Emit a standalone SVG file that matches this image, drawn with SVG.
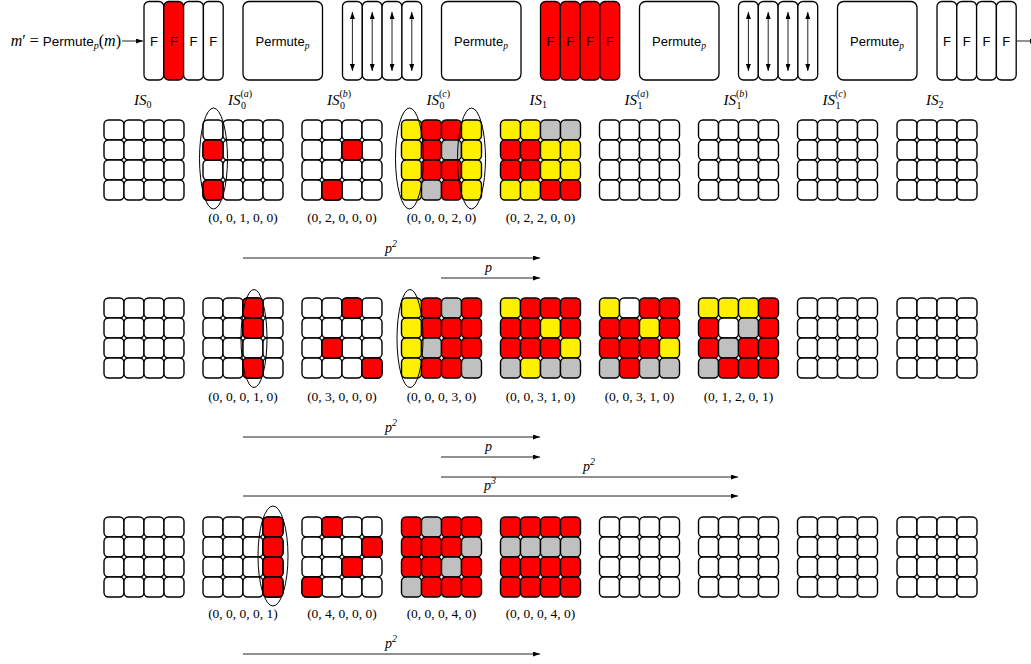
<svg xmlns="http://www.w3.org/2000/svg" xmlns:xlink="http://www.w3.org/1999/xlink" width="1031" height="664" viewBox="0 0 1031 664">
<style>
.R{fill:#ff0000}.Y{fill:#fff000}.G{fill:#c0c0c0}.W{fill:#ffffff}
.col{stroke:#000;stroke-width:1.3}
.box{fill:#fff;stroke:#000;stroke-width:1.3}
.ell{fill:none;stroke:#000;stroke-width:1}
.con{stroke:#222;stroke-width:1;fill:none}
.sf{font-family:"Liberation Sans",Arial,sans-serif;font-size:13px;fill:#000}
.mi{font-family:"Liberation Serif","Times New Roman",serif;font-style:italic;font-size:15px;fill:#000}
.sm{font-family:"Liberation Serif","Times New Roman",serif;font-size:10px;fill:#000}
.rm{font-family:"Liberation Serif","Times New Roman",serif;font-size:16px;fill:#000}
.tu{font-family:"Liberation Serif","Times New Roman",serif;font-size:13.5px;fill:#000;text-anchor:middle}
.pl{font-family:"Liberation Serif","Times New Roman",serif;font-style:italic;font-size:14px;fill:#000}
</style>
<defs>
<rect id="c" width="20" height="20" rx="4.5" stroke="#000" stroke-width="1.4"/>
<g id="grid">
<use xlink:href="#c" x="0" y="0" fill="#fff"/><use xlink:href="#c" x="20" y="0" fill="#fff"/><use xlink:href="#c" x="40" y="0" fill="#fff"/><use xlink:href="#c" x="60" y="0" fill="#fff"/>
<use xlink:href="#c" x="0" y="20" fill="#fff"/><use xlink:href="#c" x="20" y="20" fill="#fff"/><use xlink:href="#c" x="40" y="20" fill="#fff"/><use xlink:href="#c" x="60" y="20" fill="#fff"/>
<use xlink:href="#c" x="0" y="40" fill="#fff"/><use xlink:href="#c" x="20" y="40" fill="#fff"/><use xlink:href="#c" x="40" y="40" fill="#fff"/><use xlink:href="#c" x="60" y="40" fill="#fff"/>
<use xlink:href="#c" x="0" y="60" fill="#fff"/><use xlink:href="#c" x="20" y="60" fill="#fff"/><use xlink:href="#c" x="40" y="60" fill="#fff"/><use xlink:href="#c" x="60" y="60" fill="#fff"/>
</g>
<marker id="ah" viewBox="0 0 7 5" refX="7" refY="2.5" markerWidth="7" markerHeight="5" markerUnits="userSpaceOnUse" orient="auto-start-reverse"><path d="M0,0 L7,2.5 L0,5 z" fill="#000"/></marker>
</defs>

<!-- top row -->
<g id="topLabel">
<text x="121" y="46" text-anchor="end"><tspan class="mi" style="font-size:16px">m</tspan><tspan class="rm">′ = </tspan><tspan class="sf" style="font-size:13.5px">Permute</tspan><tspan class="pl" style="font-size:10px" dy="3">p</tspan><tspan class="rm" dy="-3">(</tspan><tspan class="mi" style="font-size:16px">m</tspan><tspan class="rm">)</tspan></text>
</g>
<g id="F0">
<rect class="col W" x="144" y="1.5" width="19.8" height="78.5" rx="5"/><rect class="col R" x="163.8" y="1.5" width="19.8" height="78.5" rx="5"/><rect class="col W" x="183.6" y="1.5" width="19.8" height="78.5" rx="5"/><rect class="col W" x="203.4" y="1.5" width="19.8" height="78.5" rx="5"/>
<text class="sf" x="153.9" y="46" text-anchor="middle">F</text><text class="sf" x="173.7" y="46" text-anchor="middle">F</text><text class="sf" x="193.5" y="46" text-anchor="middle">F</text><text class="sf" x="213.3" y="46" text-anchor="middle">F</text>
</g>
<g id="P0a"><rect class="box" x="243" y="1.5" width="79.5" height="78.5" rx="6"/><text x="282.5" y="46" text-anchor="middle"><tspan class="sf">Permute</tspan><tspan class="pl" style="font-size:9.5px" dy="3">p</tspan></text></g>
<g id="A0b">
<rect class="col W" x="342.5" y="1.5" width="19.8" height="78.5" rx="5"/><rect class="col W" x="362.3" y="1.5" width="19.8" height="78.5" rx="5"/><rect class="col W" x="382.1" y="1.5" width="19.8" height="78.5" rx="5"/><rect class="col W" x="401.9" y="1.5" width="19.8" height="78.5" rx="5"/>
<line class="con" x1="352.4" y1="12" x2="352.4" y2="71" marker-start="url(#ah)" marker-end="url(#ah)"/><line class="con" x1="372.2" y1="12" x2="372.2" y2="71" marker-start="url(#ah)" marker-end="url(#ah)"/><line class="con" x1="392" y1="12" x2="392" y2="71" marker-start="url(#ah)" marker-end="url(#ah)"/><line class="con" x1="411.8" y1="12" x2="411.8" y2="71" marker-start="url(#ah)" marker-end="url(#ah)"/>
</g>
<g id="P0c"><rect class="box" x="441.5" y="1.5" width="79.5" height="78.5" rx="6"/><text x="481" y="46" text-anchor="middle"><tspan class="sf">Permute</tspan><tspan class="pl" style="font-size:9.5px" dy="3">p</tspan></text></g>
<g id="F1">
<rect class="col R" x="540.5" y="1.5" width="19.8" height="78.5" rx="5"/><rect class="col R" x="560.3" y="1.5" width="19.8" height="78.5" rx="5"/><rect class="col R" x="580.1" y="1.5" width="19.8" height="78.5" rx="5"/><rect class="col R" x="599.9" y="1.5" width="19.8" height="78.5" rx="5"/>
<text class="sf" x="550.4" y="46" text-anchor="middle">F</text><text class="sf" x="570.2" y="46" text-anchor="middle">F</text><text class="sf" x="590" y="46" text-anchor="middle">F</text><text class="sf" x="609.8" y="46" text-anchor="middle">F</text>
</g>
<g id="P1a"><rect class="box" x="639.5" y="1.5" width="79.5" height="78.5" rx="6"/><text x="679" y="46" text-anchor="middle"><tspan class="sf">Permute</tspan><tspan class="pl" style="font-size:9.5px" dy="3">p</tspan></text></g>
<g id="A1b">
<rect class="col W" x="738.5" y="1.5" width="19.8" height="78.5" rx="5"/><rect class="col W" x="758.3" y="1.5" width="19.8" height="78.5" rx="5"/><rect class="col W" x="778.1" y="1.5" width="19.8" height="78.5" rx="5"/><rect class="col W" x="797.9" y="1.5" width="19.8" height="78.5" rx="5"/>
<line class="con" x1="748.4" y1="12" x2="748.4" y2="71" marker-start="url(#ah)" marker-end="url(#ah)"/><line class="con" x1="768.2" y1="12" x2="768.2" y2="71" marker-start="url(#ah)" marker-end="url(#ah)"/><line class="con" x1="788" y1="12" x2="788" y2="71" marker-start="url(#ah)" marker-end="url(#ah)"/><line class="con" x1="807.8" y1="12" x2="807.8" y2="71" marker-start="url(#ah)" marker-end="url(#ah)"/>
</g>
<g id="P1c"><rect class="box" x="837.5" y="1.5" width="79.5" height="78.5" rx="6"/><text x="877" y="46" text-anchor="middle"><tspan class="sf">Permute</tspan><tspan class="pl" style="font-size:9.5px" dy="3">p</tspan></text></g>
<g id="F2">
<rect class="col W" x="937" y="1.5" width="19.8" height="78.5" rx="5"/><rect class="col W" x="956.8" y="1.5" width="19.8" height="78.5" rx="5"/><rect class="col W" x="976.6" y="1.5" width="19.8" height="78.5" rx="5"/><rect class="col W" x="996.4" y="1.5" width="19.8" height="78.5" rx="5"/>
<text class="sf" x="946.9" y="46" text-anchor="middle">F</text><text class="sf" x="966.7" y="46" text-anchor="middle">F</text><text class="sf" x="986.5" y="46" text-anchor="middle">F</text><text class="sf" x="1006.3" y="46" text-anchor="middle">F</text>
</g>

<!-- IS labels -->
<g id="ISlabels">
<text class="mi" x="134" y="105">IS</text><text class="sm" x="146.5" y="108">0</text>
<text class="mi" x="228" y="105">IS</text><text class="sm" x="241" y="108.5">0</text><text class="sm" x="240.5" y="97">(<tspan font-style="italic">a</tspan>)</text>
<text class="mi" x="327" y="105">IS</text><text class="sm" x="340" y="108.5">0</text><text class="sm" x="339.5" y="97">(<tspan font-style="italic">b</tspan>)</text>
<text class="mi" x="426.5" y="105">IS</text><text class="sm" x="439.5" y="108.5">0</text><text class="sm" x="439" y="97">(<tspan font-style="italic">c</tspan>)</text>
<text class="mi" x="529.5" y="105">IS</text><text class="sm" x="542" y="108">1</text>
<text class="mi" x="624.5" y="105">IS</text><text class="sm" x="637.5" y="108.5">1</text><text class="sm" x="637" y="97">(<tspan font-style="italic">a</tspan>)</text>
<text class="mi" x="723.5" y="105">IS</text><text class="sm" x="736.5" y="108.5">1</text><text class="sm" x="736" y="97">(<tspan font-style="italic">b</tspan>)</text>
<text class="mi" x="822.5" y="105">IS</text><text class="sm" x="835.5" y="108.5">1</text><text class="sm" x="835" y="97">(<tspan font-style="italic">c</tspan>)</text>
<text class="mi" x="926" y="105">IS</text><text class="sm" x="938.5" y="108">2</text>
</g>

<!-- row 1 -->
<g id="r1g0"><use xlink:href="#grid" x="104" y="120"/></g>
<g id="r1g1"><use xlink:href="#grid" x="203" y="120"/><use xlink:href="#c" class="R" x="203" y="140"/><use xlink:href="#c" class="R" x="203" y="180"/></g>
<g id="r1g2"><use xlink:href="#grid" x="302" y="120"/><use xlink:href="#c" class="R" x="342" y="140"/><use xlink:href="#c" class="R" x="322" y="180"/></g>
<g id="r1g3">
<use xlink:href="#c" class="Y" x="401.5" y="120"/><use xlink:href="#c" class="R" x="421.5" y="120"/><use xlink:href="#c" class="R" x="441.5" y="120"/><use xlink:href="#c" class="Y" x="461.5" y="120"/>
<use xlink:href="#c" class="Y" x="401.5" y="140"/><use xlink:href="#c" class="R" x="421.5" y="140"/><use xlink:href="#c" class="G" x="441.5" y="140"/><use xlink:href="#c" class="Y" x="461.5" y="140"/>
<use xlink:href="#c" class="Y" x="401.5" y="160"/><use xlink:href="#c" class="R" x="421.5" y="160"/><use xlink:href="#c" class="R" x="441.5" y="160"/><use xlink:href="#c" class="Y" x="461.5" y="160"/>
<use xlink:href="#c" class="Y" x="401.5" y="180"/><use xlink:href="#c" class="G" x="421.5" y="180"/><use xlink:href="#c" class="R" x="441.5" y="180"/><use xlink:href="#c" class="Y" x="461.5" y="180"/>
</g>
<g id="r1g4">
<use xlink:href="#c" class="Y" x="500.5" y="120"/><use xlink:href="#c" class="Y" x="520.5" y="120"/><use xlink:href="#c" class="G" x="540.5" y="120"/><use xlink:href="#c" class="G" x="560.5" y="120"/>
<use xlink:href="#c" class="R" x="500.5" y="140"/><use xlink:href="#c" class="R" x="520.5" y="140"/><use xlink:href="#c" class="Y" x="540.5" y="140"/><use xlink:href="#c" class="Y" x="560.5" y="140"/>
<use xlink:href="#c" class="R" x="500.5" y="160"/><use xlink:href="#c" class="R" x="520.5" y="160"/><use xlink:href="#c" class="Y" x="540.5" y="160"/><use xlink:href="#c" class="Y" x="560.5" y="160"/>
<use xlink:href="#c" class="Y" x="500.5" y="180"/><use xlink:href="#c" class="Y" x="520.5" y="180"/><use xlink:href="#c" class="R" x="540.5" y="180"/><use xlink:href="#c" class="R" x="560.5" y="180"/>
</g>
<g id="r1g5"><use xlink:href="#grid" x="599.5" y="120"/></g>
<g id="r1g6"><use xlink:href="#grid" x="698.5" y="120"/></g>
<g id="r1g7"><use xlink:href="#grid" x="797.5" y="120"/></g>
<g id="r1g8"><use xlink:href="#grid" x="897" y="120"/></g>

<!-- row 2 -->
<g id="r2g0"><use xlink:href="#grid" x="104" y="298"/></g>
<g id="r2g1"><use xlink:href="#grid" x="203" y="298"/><use xlink:href="#c" class="R" x="243" y="298"/><use xlink:href="#c" class="R" x="243" y="318"/><use xlink:href="#c" class="R" x="243" y="358"/></g>
<g id="r2g2"><use xlink:href="#grid" x="302" y="298"/><use xlink:href="#c" class="R" x="342" y="298"/><use xlink:href="#c" class="R" x="322" y="338"/><use xlink:href="#c" class="R" x="362" y="358"/></g>
<g id="r2g3">
<use xlink:href="#c" class="Y" x="401.5" y="298"/><use xlink:href="#c" class="R" x="421.5" y="298"/><use xlink:href="#c" class="G" x="441.5" y="298"/><use xlink:href="#c" class="R" x="461.5" y="298"/>
<use xlink:href="#c" class="Y" x="401.5" y="318"/><use xlink:href="#c" class="R" x="421.5" y="318"/><use xlink:href="#c" class="R" x="441.5" y="318"/><use xlink:href="#c" class="R" x="461.5" y="318"/>
<use xlink:href="#c" class="Y" x="401.5" y="338"/><use xlink:href="#c" class="G" x="421.5" y="338"/><use xlink:href="#c" class="R" x="441.5" y="338"/><use xlink:href="#c" class="R" x="461.5" y="338"/>
<use xlink:href="#c" class="Y" x="401.5" y="358"/><use xlink:href="#c" class="R" x="421.5" y="358"/><use xlink:href="#c" class="R" x="441.5" y="358"/><use xlink:href="#c" class="G" x="461.5" y="358"/>
</g>
<g id="r2g4">
<use xlink:href="#c" class="Y" x="500.5" y="298"/><use xlink:href="#c" class="R" x="520.5" y="298"/><use xlink:href="#c" class="R" x="540.5" y="298"/><use xlink:href="#c" class="R" x="560.5" y="298"/>
<use xlink:href="#c" class="R" x="500.5" y="318"/><use xlink:href="#c" class="R" x="520.5" y="318"/><use xlink:href="#c" class="Y" x="540.5" y="318"/><use xlink:href="#c" class="R" x="560.5" y="318"/>
<use xlink:href="#c" class="R" x="500.5" y="338"/><use xlink:href="#c" class="R" x="520.5" y="338"/><use xlink:href="#c" class="R" x="540.5" y="338"/><use xlink:href="#c" class="Y" x="560.5" y="338"/>
<use xlink:href="#c" class="G" x="500.5" y="358"/><use xlink:href="#c" class="Y" x="520.5" y="358"/><use xlink:href="#c" class="G" x="540.5" y="358"/><use xlink:href="#c" class="G" x="560.5" y="358"/>
</g>
<g id="r2g5">
<use xlink:href="#c" class="Y" x="599.5" y="298"/><use xlink:href="#c" class="W" x="619.5" y="298"/><use xlink:href="#c" class="R" x="639.5" y="298"/><use xlink:href="#c" class="R" x="659.5" y="298"/>
<use xlink:href="#c" class="R" x="599.5" y="318"/><use xlink:href="#c" class="R" x="619.5" y="318"/><use xlink:href="#c" class="Y" x="639.5" y="318"/><use xlink:href="#c" class="R" x="659.5" y="318"/>
<use xlink:href="#c" class="R" x="599.5" y="338"/><use xlink:href="#c" class="R" x="619.5" y="338"/><use xlink:href="#c" class="R" x="639.5" y="338"/><use xlink:href="#c" class="Y" x="659.5" y="338"/>
<use xlink:href="#c" class="G" x="599.5" y="358"/><use xlink:href="#c" class="R" x="619.5" y="358"/><use xlink:href="#c" class="G" x="639.5" y="358"/><use xlink:href="#c" class="G" x="659.5" y="358"/>
</g>
<g id="r2g6">
<use xlink:href="#c" class="Y" x="698.5" y="298"/><use xlink:href="#c" class="Y" x="718.5" y="298"/><use xlink:href="#c" class="Y" x="738.5" y="298"/><use xlink:href="#c" class="R" x="758.5" y="298"/>
<use xlink:href="#c" class="R" x="698.5" y="318"/><use xlink:href="#c" class="W" x="718.5" y="318"/><use xlink:href="#c" class="G" x="738.5" y="318"/><use xlink:href="#c" class="R" x="758.5" y="318"/>
<use xlink:href="#c" class="R" x="698.5" y="338"/><use xlink:href="#c" class="G" x="718.5" y="338"/><use xlink:href="#c" class="R" x="738.5" y="338"/><use xlink:href="#c" class="R" x="758.5" y="338"/>
<use xlink:href="#c" class="G" x="698.5" y="358"/><use xlink:href="#c" class="R" x="718.5" y="358"/><use xlink:href="#c" class="R" x="738.5" y="358"/><use xlink:href="#c" class="R" x="758.5" y="358"/>
</g>
<g id="r2g7"><use xlink:href="#grid" x="797.5" y="298"/></g>
<g id="r2g8"><use xlink:href="#grid" x="897" y="298"/></g>

<!-- row 3 -->
<g id="r3g0"><use xlink:href="#grid" x="104" y="517"/></g>
<g id="r3g1"><use xlink:href="#grid" x="203" y="517"/><use xlink:href="#c" class="R" x="263" y="517"/><use xlink:href="#c" class="R" x="263" y="537"/><use xlink:href="#c" class="R" x="263" y="557"/><use xlink:href="#c" class="R" x="263" y="577"/></g>
<g id="r3g2"><use xlink:href="#grid" x="302" y="517"/><use xlink:href="#c" class="R" x="322" y="517"/><use xlink:href="#c" class="R" x="362" y="537"/><use xlink:href="#c" class="R" x="342" y="557"/><use xlink:href="#c" class="R" x="302" y="577"/></g>
<g id="r3g3">
<use xlink:href="#c" class="R" x="401.5" y="517"/><use xlink:href="#c" class="G" x="421.5" y="517"/><use xlink:href="#c" class="R" x="441.5" y="517"/><use xlink:href="#c" class="R" x="461.5" y="517"/>
<use xlink:href="#c" class="R" x="401.5" y="537"/><use xlink:href="#c" class="R" x="421.5" y="537"/><use xlink:href="#c" class="R" x="441.5" y="537"/><use xlink:href="#c" class="G" x="461.5" y="537"/>
<use xlink:href="#c" class="R" x="401.5" y="557"/><use xlink:href="#c" class="R" x="421.5" y="557"/><use xlink:href="#c" class="G" x="441.5" y="557"/><use xlink:href="#c" class="R" x="461.5" y="557"/>
<use xlink:href="#c" class="G" x="401.5" y="577"/><use xlink:href="#c" class="R" x="421.5" y="577"/><use xlink:href="#c" class="R" x="441.5" y="577"/><use xlink:href="#c" class="R" x="461.5" y="577"/>
</g>
<g id="r3g4">
<use xlink:href="#c" class="R" x="500.5" y="517"/><use xlink:href="#c" class="R" x="520.5" y="517"/><use xlink:href="#c" class="R" x="540.5" y="517"/><use xlink:href="#c" class="R" x="560.5" y="517"/>
<use xlink:href="#c" class="G" x="500.5" y="537"/><use xlink:href="#c" class="G" x="520.5" y="537"/><use xlink:href="#c" class="G" x="540.5" y="537"/><use xlink:href="#c" class="G" x="560.5" y="537"/>
<use xlink:href="#c" class="R" x="500.5" y="557"/><use xlink:href="#c" class="R" x="520.5" y="557"/><use xlink:href="#c" class="R" x="540.5" y="557"/><use xlink:href="#c" class="R" x="560.5" y="557"/>
<use xlink:href="#c" class="R" x="500.5" y="577"/><use xlink:href="#c" class="R" x="520.5" y="577"/><use xlink:href="#c" class="R" x="540.5" y="577"/><use xlink:href="#c" class="R" x="560.5" y="577"/>
</g>
<g id="r3g5"><use xlink:href="#grid" x="599.5" y="517"/></g>
<g id="r3g6"><use xlink:href="#grid" x="698.5" y="517"/></g>
<g id="r3g7"><use xlink:href="#grid" x="797.5" y="517"/></g>
<g id="r3g8"><use xlink:href="#grid" x="897" y="517"/></g>

<!-- ellipses -->
<g id="ellipses">
<ellipse class="ell" cx="213.5" cy="158.5" rx="14" ry="50.5"/>
<ellipse class="ell" cx="409.5" cy="158.5" rx="14" ry="50.5"/>
<ellipse class="ell" cx="471.5" cy="158.5" rx="14" ry="50.5"/>
<ellipse class="ell" cx="254" cy="338.5" rx="13" ry="49"/>
<ellipse class="ell" cx="410" cy="338.5" rx="13" ry="49"/>
<ellipse class="ell" cx="273" cy="556" rx="15" ry="50"/>
</g>

<!-- tuple labels -->
<g id="tuples">
<text class="tu" x="243" y="222">(0, 0, 1, 0, 0)</text>
<text class="tu" x="342" y="222">(0, 2, 0, 0, 0)</text>
<text class="tu" x="441.5" y="222">(0, 0, 0, 2, 0)</text>
<text class="tu" x="540.5" y="222">(0, 2, 2, 0, 0)</text>
<text class="tu" x="243" y="401">(0, 0, 0, 1, 0)</text>
<text class="tu" x="342" y="401">(0, 3, 0, 0, 0)</text>
<text class="tu" x="441.5" y="401">(0, 0, 0, 3, 0)</text>
<text class="tu" x="540.5" y="401">(0, 0, 3, 1, 0)</text>
<text class="tu" x="639.5" y="401">(0, 0, 3, 1, 0)</text>
<text class="tu" x="738.5" y="401">(0, 1, 2, 0, 1)</text>
<text class="tu" x="243" y="618">(0, 0, 0, 0, 1)</text>
<text class="tu" x="342" y="618">(0, 4, 0, 0, 0)</text>
<text class="tu" x="441.5" y="618">(0, 0, 0, 4, 0)</text>
<text class="tu" x="540.5" y="618">(0, 0, 0, 4, 0)</text>
</g>

<!-- connectors -->
<g id="connectors">
<line class="con" x1="122" y1="41" x2="143" y2="41" marker-end="url(#ah)"/>
<line class="con" x1="1016" y1="41" x2="1037" y2="41" marker-end="url(#ah)"/>
<line class="con" x1="243" y1="258" x2="540" y2="258" marker-end="url(#ah)"/>
<line class="con" x1="441" y1="278" x2="540" y2="278" marker-end="url(#ah)"/>
<line class="con" x1="243" y1="437" x2="540" y2="437" marker-end="url(#ah)"/>
<line class="con" x1="441" y1="457" x2="540" y2="457" marker-end="url(#ah)"/>
<line class="con" x1="441" y1="477" x2="738" y2="477" marker-end="url(#ah)"/>
<line class="con" x1="243" y1="496" x2="738" y2="496" marker-end="url(#ah)"/>
<line class="con" x1="243" y1="654" x2="540" y2="654" marker-end="url(#ah)"/>
</g>
<g id="connLabels">
<text class="pl" x="385" y="253">p<tspan class="sm" dy="-6">2</tspan></text>
<text class="pl" x="485" y="272">p</text>
<text class="pl" x="385" y="432">p<tspan class="sm" dy="-6">2</tspan></text>
<text class="pl" x="485" y="451">p</text>
<text class="pl" x="583" y="471">p<tspan class="sm" dy="-6">2</tspan></text>
<text class="pl" x="484" y="490">p<tspan class="sm" dy="-6">3</tspan></text>
<text class="pl" x="385" y="648">p<tspan class="sm" dy="-6">2</tspan></text>
</g>
</svg>
